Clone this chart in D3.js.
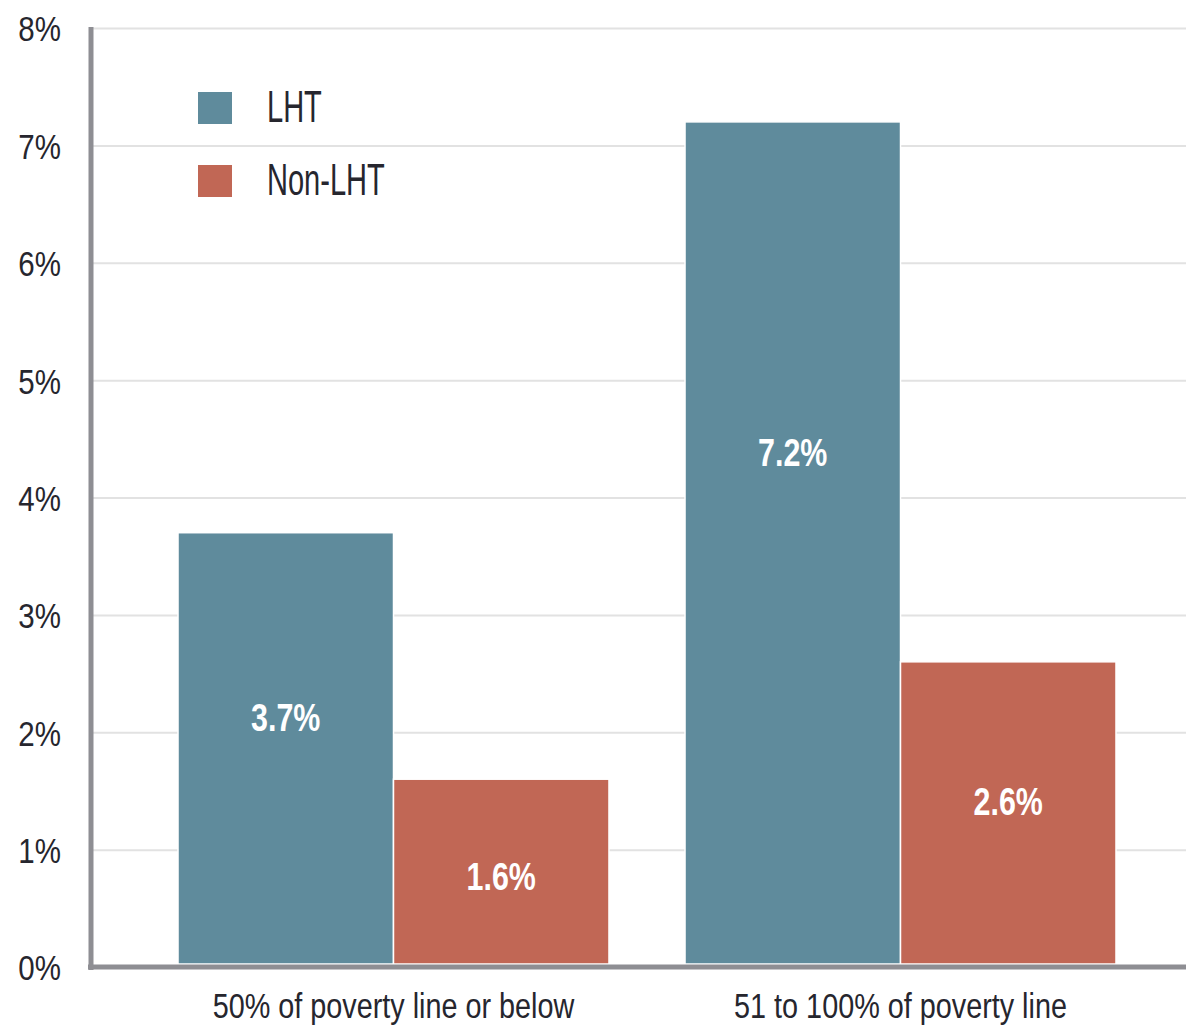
<!DOCTYPE html>
<html>
<head>
<meta charset="utf-8">
<script src="https://cdn.jsdelivr.net/npm/d3@7"></script>
<style>
  html, body { margin: 0; padding: 0; background: #fff; }
  svg { display: block; }
  text { font-family: "Liberation Sans", Arial, sans-serif; }
</style>
</head>
<body>
<svg id="chart" width="1186" height="1028"></svg>
<script>
// Share of households by poverty level, LHT vs Non-LHT
const categories = ["50% of poverty line or below", "51 to 100% of poverty line"];
const seriesNames = ["LHT", "Non-LHT"];
const lhtValues = [3.7, 7.2];
const nonLhtValues = [1.6, 2.6];
const yTicks = [0, 1, 2, 3, 4, 5, 6, 7, 8];
const colors = { "LHT": "#5f8b9c", "Non-LHT": "#c16755" };

const rows = categories.map((c, i) => ({ category: c, "LHT": lhtValues[i], "Non-LHT": nonLhtValues[i] }));

const svg = d3.select("#chart");
const W = 1186;
const plotLeft = 91, plotTop = 28, plotBottom = 967;
const textColor = "#26262e";

// place a horizontally condensed text at (x, y)
function condensed(sel, x, y, sx) {
  sel.attr("x", 0).attr("y", 0)
    .attr("transform", (d, i, n) => {
      const px = typeof x === "function" ? x(d, i, n) : x;
      const py = typeof y === "function" ? y(d, i, n) : y;
      return `translate(${px},${py}) scale(${sx},1)`;
    });
  return sel;
}

const y = d3.scaleLinear().domain([0, 8]).range([plotBottom, plotTop]);

const x0 = d3.scaleBand().domain(categories)
  .range([90, 1204]).paddingInner(0.15).paddingOuter(0.1736);
const x1 = d3.scaleBand().domain(seriesNames).range([0, x0.bandwidth()]).padding(0);

// horizontal gridlines
const grid = svg.append("g")
  .attr("transform", `translate(${plotLeft},0)`)
  .call(d3.axisLeft(y).tickValues(yTicks.slice(1)).tickSize(-(W - plotLeft)).tickFormat(""));
grid.select(".domain").remove();
grid.selectAll(".tick line").attr("stroke", "#e2e2e2").attr("stroke-width", 2);

// y tick labels
const yAxis = svg.append("g")
  .attr("transform", `translate(61,0)`)
  .call(d3.axisLeft(y).tickValues(yTicks).tickSize(0).tickPadding(0).tickFormat(d => d + "%"));
yAxis.select(".domain").remove();
yAxis.selectAll(".tick text")
  .attr("font-size", 36)
  .attr("fill", textColor)
  .attr("dy", "0.36em")
  .attr("transform", "scale(0.82,1)")
  .style("font-family", null);

// bars
const groups = svg.append("g").selectAll("g")
  .data(rows).join("g")
  .attr("transform", d => `translate(${x0(d.category)},0)`);

groups.selectAll("rect")
  .data(d => seriesNames.map(k => ({ key: k, value: d[k] })))
  .join("rect")
  .attr("x", d => x1(d.key))
  .attr("y", d => y(d.value))
  .attr("width", x1.bandwidth())
  .attr("height", d => plotBottom - 3 - y(d.value))
  .attr("fill", d => colors[d.key])
  .attr("stroke", "#fff")
  .attr("stroke-width", 1.5);

// value labels inside bars
groups.selectAll("text.value")
  .data(d => seriesNames.map(k => ({ key: k, value: d[k] })))
  .join("text")
  .attr("class", "value")
  .attr("dy", "0.36em")
  .attr("text-anchor", "middle")
  .attr("font-size", 38)
  .attr("font-weight", "bold")
  .attr("fill", "#fff")
  .text(d => d.value.toFixed(1) + "%")
  .call(condensed,
    d => x1(d.key) + x1.bandwidth() / 2,
    d => { const top = y(d.value); return top + 0.355 * (plotBottom - top + 87); },
    0.8);

// axis lines
svg.append("line")
  .attr("x1", plotLeft).attr("x2", plotLeft)
  .attr("y1", plotTop - 1).attr("y2", plotBottom + 3)
  .attr("stroke", "#8e8e93").attr("stroke-width", 5);
svg.append("line")
  .attr("x1", plotLeft - 3).attr("x2", W)
  .attr("y1", plotBottom).attr("y2", plotBottom)
  .attr("stroke", "#8e8e93").attr("stroke-width", 5);

// category labels
svg.append("g").selectAll("text")
  .data(categories).join("text")
  .attr("text-anchor", "middle")
  .attr("font-size", 36)
  .attr("fill", textColor)
  .text(d => d)
  .call(condensed, d => x0(d) + x0.bandwidth() / 2, 1018, 0.8);

// legend
const legendItems = svg.append("g").selectAll("g")
  .data(seriesNames).join("g")
  .attr("transform", (d, i) => `translate(198,${92 + i * 73})`);
legendItems.append("rect")
  .attr("width", 34).attr("height", 32)
  .attr("fill", d => colors[d]);
legendItems.append("text")
  .attr("font-size", 44)
  .attr("fill", textColor)
  .text(d => d)
  .call(condensed, 69, 30, 0.66);
</script>
</body>
</html>
